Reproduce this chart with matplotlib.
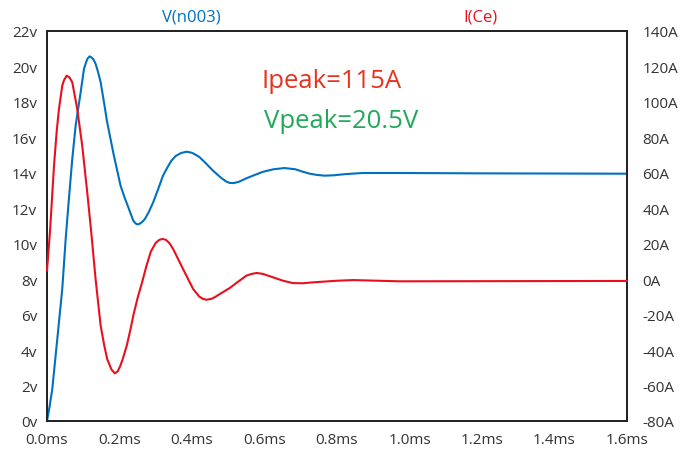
import matplotlib

matplotlib.use("Agg")
import matplotlib.pyplot as plt

# V(n003) in volts, time in ms
v_time = [0.0, 0.007, 0.0146, 0.0284, 0.0421, 0.0515, 0.0607, 0.0697, 0.079, 0.0928, 0.102,
          0.108, 0.112, 0.1176, 0.123, 0.128, 0.134, 0.14, 0.148, 0.157, 0.166,
          0.1845, 0.203, 0.215, 0.226, 0.238, 0.244, 0.249, 0.255, 0.262, 0.270,
          0.281, 0.293, 0.307, 0.320, 0.332, 0.343, 0.355, 0.37, 0.385, 0.40,
          0.41, 0.421, 0.44, 0.458, 0.48, 0.495, 0.504, 0.515, 0.53, 0.550,
          0.573, 0.596, 0.625, 0.655, 0.685, 0.706, 0.725, 0.745, 0.766, 0.79,
          0.825, 0.871, 0.972, 1.2, 1.6]
v_vals = [0.0, 0.8, 1.81, 4.63, 7.45, 10.27, 12.6, 14.78, 16.66, 18.54, 19.86,
          20.25, 20.45, 20.57, 20.5, 20.4, 20.15, 19.75, 19.11, 18.0, 16.85,
          14.97, 13.27, 12.55, 11.96, 11.3, 11.15, 11.09, 11.12, 11.22, 11.39,
          11.8, 12.34, 13.1, 13.84, 14.3, 14.68, 14.95, 15.12, 15.19, 15.13,
          15.02, 14.88, 14.5, 14.12, 13.72, 13.50, 13.43, 13.42, 13.5, 13.69,
          13.88, 14.06, 14.2, 14.27, 14.2, 14.06, 13.95, 13.88, 13.84, 13.86,
          13.93, 13.99, 13.99, 13.97, 13.95]

# I(Ce) in amps
i_time = [0.0, 0.0083, 0.0193, 0.027, 0.033, 0.0421, 0.047, 0.0543, 0.062, 0.0697, 0.0834,
          0.0972, 0.111, 0.1225, 0.134, 0.148, 0.158, 0.166, 0.1735, 0.178, 0.187,
          0.195, 0.202, 0.209, 0.22, 0.2305, 0.238, 0.25, 0.262, 0.275, 0.2865,
          0.30, 0.31, 0.3187, 0.328, 0.338, 0.348, 0.3754, 0.403, 0.42, 0.43,
          0.44, 0.455, 0.465, 0.4765, 0.504, 0.528, 0.55, 0.565, 0.579, 0.595,
          0.623, 0.65, 0.678, 0.705, 0.733, 0.798, 0.844, 0.972, 1.6]
i_vals = [4.8, 27.0, 64.0, 84.0, 96.0, 109.2, 112.3, 114.8, 113.8, 111.1, 96.0,
          75.3, 49.0, 25.5, 0.1, -26.2, -37.5, -45.0, -48.8, -51.0, -53.1,
          -52.0, -49.0, -45.0, -37.5, -28.1, -20.6, -10.5, -2.0, 8.0, 15.6,
          20.5, 22.2, 22.7, 22.2, 20.3, 17.0, 5.7, -5.5, -9.8, -11.1,
          -11.6, -11.0, -9.9, -8.4, -5.0, -1.3, 2.0, 3.0, 3.5, 3.0,
          1.1, -0.8, -2.2, -2.3, -1.8, -0.9, -0.5, -1.2, -1.0]

x_ticks = [0.0, 0.2, 0.4, 0.6, 0.8, 1.0, 1.2, 1.4, 1.6]
v_ticks = list(range(0, 23, 2))
i_ticks = list(range(-80, 141, 20))

blue = "#0070c0"
red = "#e8101e"

plt.rcParams["font.family"] = ["Open Sans", "DejaVu Sans"]

fig = plt.figure(figsize=(6.9, 4.52), dpi=100)
ax = fig.add_axes([47 / 690, 30 / 452, 580 / 690, 390 / 452])
ax2 = ax.twinx()

ax.plot(v_time, v_vals, color=blue, lw=1.5, clip_on=False, zorder=3)
ax2.plot(i_time, i_vals, color=red, lw=1.5, clip_on=False, zorder=3)

ax.set_xlim(0, 1.6)
ax.set_ylim(0, 22)
ax2.set_ylim(-80, 140)

ax.set_xticks(x_ticks)
ax.set_xticklabels([f"{t:.1f}ms" for t in x_ticks])
ax.set_yticks(v_ticks)
ax.set_yticklabels([f"{v}v" for v in v_ticks])
ax2.set_yticks(i_ticks)
ax2.set_yticklabels([f"{i}A" for i in i_ticks])

for a in (ax, ax2):
    for s in a.spines.values():
        s.set_color("#222222")
        s.set_linewidth(1.3)
ax.tick_params(axis="x", length=0, pad=8, labelsize=11, labelcolor="#333333")
ax.tick_params(axis="y", length=0, pad=7, labelsize=11, labelcolor="#333333")
ax2.tick_params(axis="y", length=0, pad=11, labelsize=11, labelcolor="#333333")

fig.text(191 / 690, 1 - 17 / 452, "V(n003)", color=blue, fontsize=12, ha="center", va="center")
fig.text(480 / 690, 1 - 17 / 452, "I(Ce)", color=red, fontsize=12, ha="center", va="center")

fig.text(261 / 690, 1 - 88 / 452, "Ipeak=115A", color="#e8321e", fontsize=18.5, ha="left", va="baseline")
fig.text(264 / 690, 1 - 128 / 452, "Vpeak=20.5V", color="#22a85a", fontsize=18.5, ha="left", va="baseline")

fig.savefig("out.png", dpi=100, facecolor="white")
